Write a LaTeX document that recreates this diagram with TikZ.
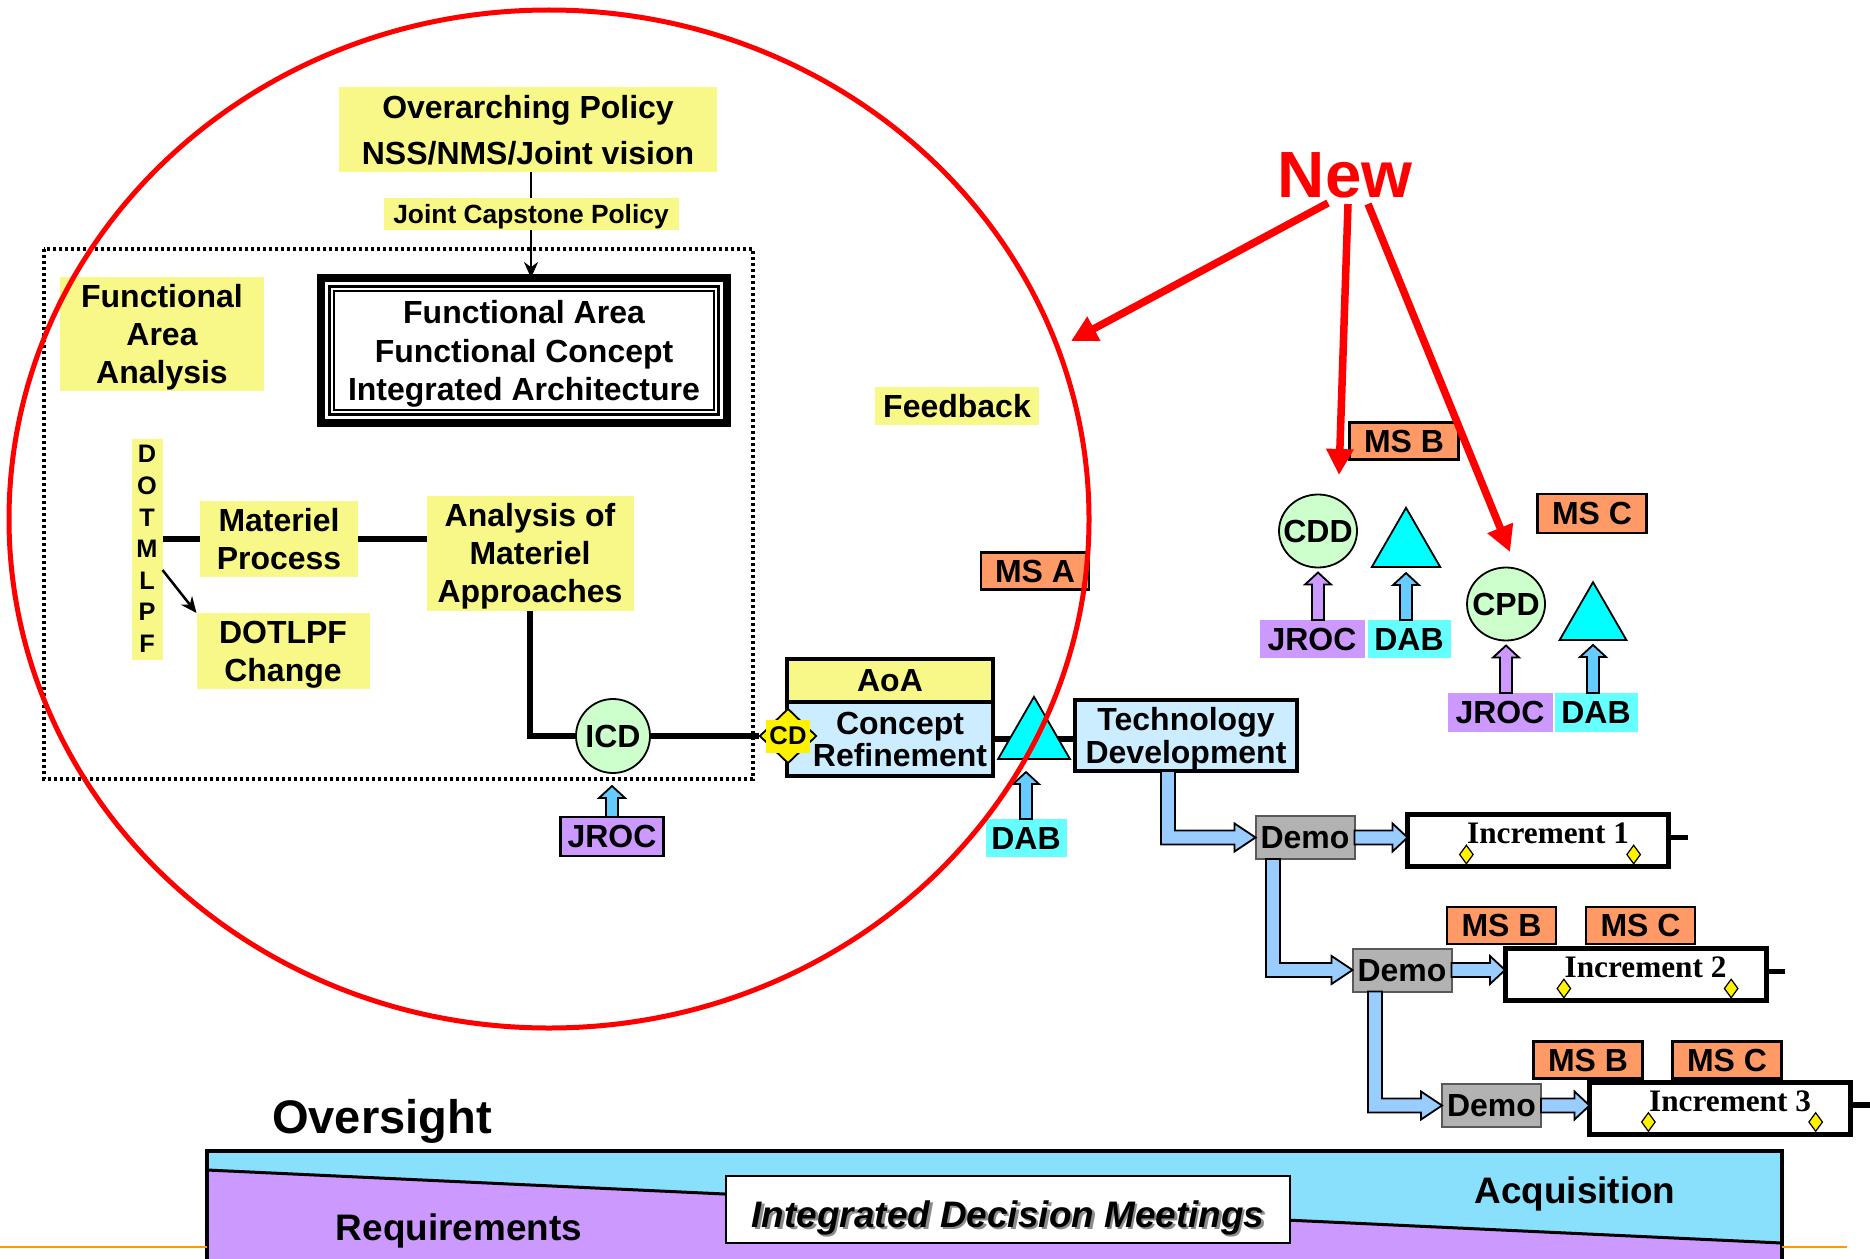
\documentclass[tikz,border=0pt]{standalone}
\usepackage{fontspec}
\setmainfont{Liberation Sans}
\newfontfamily\incfont{Liberation Serif}
\usetikzlibrary{calc,shapes.geometric,arrows.meta}

\definecolor{ylw}{HTML}{F8F888}
\definecolor{msorange}{HTML}{FF9966}
\definecolor{jrocpurple}{HTML}{CC99FF}
\definecolor{dabcyan}{HTML}{66FFFF}
\definecolor{tricyan}{HTML}{00FFFF}
\definecolor{docgreen}{HTML}{CCFFCC}
\definecolor{phaseblue}{HTML}{CCECFF}
\definecolor{flowblue}{HTML}{99CCFF}
\definecolor{liftblue}{HTML}{66CCFF}
\definecolor{demogray}{HTML}{B2B2B2}
\definecolor{bandcyan}{HTML}{89E0FC}
\definecolor{bandpurple}{HTML}{CC99FF}
\definecolor{rulered}{HTML}{FF0000}
\definecolor{footorange}{HTML}{FF9900}

% block arrow pointing up: foot, tip, fill
\newcommand{\liftarrow}[3]{%
	\path (#1) coordinate (la) (#2) coordinate (lt) (la |- lt) coordinate (lb);
	\filldraw[blkedge, fill=#3] ($(la)+(-6,0)$) -- ($(lb)+(-6,12)$) -- ($(lb)+(-13,12)$) -- (lb)
	-- ($(lb)+(13,12)$) -- ($(lb)+(6,12)$) -- ($(la)+(6,0)$) -- cycle;
}
% block arrow going down, then right
\newcommand{\flowarrow}[2]{%
	\path (#1) coordinate (ta) (#2) coordinate (tb) (ta |- tb) coordinate (tc);
	\filldraw[blkedge, fill=flowblue] ($(ta)+(-7,0)$) -- ($(tc)+(-7,7)$) -- ($(tb)+(-21,7)$)
	-- ($(tb)+(-21,14)$) -- (tb) -- ($(tb)+(-21,-14)$) -- ($(tb)+(-21,-7)$)
	-- ($(tc)+(7,-7)$) -- ($(ta)+(7,0)$) -- cycle;
}
% block arrow going right
\newcommand{\pusharrow}[2]{%
	\path (#1) coordinate (pa) (pa -| #2) coordinate (pb);
	\filldraw[blkedge, fill=flowblue] ($(pa)+(0,-7)$) -- ($(pb)+(-15,-7)$) -- ($(pb)+(-15,-14)$)
	-- (pb) -- ($(pb)+(-15,14)$) -- ($(pb)+(-15,7)$) -- ($(pa)+(0,7)$) -- cycle;
}
\newcommand{\shadowed}[1]{\rlap{\kern0.25mm\raisebox{-0.25mm}{\color{black!45}#1}}#1}

\tikzset{
	lbl/.style={font=\bfseries\fontsize{9.1}{10.9}\selectfont, align=center, inner sep=0pt, outer sep=0pt, text depth=0pt},
	ybox/.style={lbl, fill=ylw},
	msbox/.style={lbl, fill=msorange, draw, line width=0.22mm, minimum width=10.9mm, minimum height=3.7mm},
	jrocbox/.style={lbl, fill=jrocpurple, minimum width=10.5mm, minimum height=3.8mm},
	dabbox/.style={lbl, fill=dabcyan, minimum width=8.3mm, minimum height=3.8mm},
	docell/.style={lbl, ellipse, draw, line width=0.18mm, fill=docgreen, minimum width=7.8mm, minimum height=7.3mm},
	dabtri/.style={regular polygon, regular polygon sides=3, draw, line width=0.18mm, fill=tricyan, inner sep=0pt, outer sep=0pt},
	phasebox/.style={lbl, draw, line width=0.4mm, fill=phaseblue},
	demobox/.style={lbl, draw=black!65, line width=0.2mm, fill=demogray, minimum width=9.9mm, minimum height=4.3mm},
	incbox/.style={draw, line width=0.5mm, fill=white, inner sep=0pt, outer sep=0pt, minimum width=26.1mm, minimum height=5.2mm},
	inctext/.style={font=\incfont\bfseries\fontsize{8.9}{10}\selectfont, inner sep=0pt},
	ydia/.style={diamond, draw, line width=0.12mm, fill=yellow, inner sep=0pt, minimum width=1.4mm, minimum height=1.9mm},
	thinln/.style={line width=0.25mm},
	heavyln/.style={line width=0.55mm},
	blkedge/.style={draw=black, line width=0.18mm, line join=miter},
	redarrow/.style={draw=rulered, line width=0.75mm, -{Triangle[length=2.6mm,width=2.6mm]}},
}

\begin{document}
\begin{tikzpicture}[x=0.1mm, y=-0.1mm, line join=miter]

	\clip (0,0) rectangle (1870,1258);

	% ----------------------------
	% 1) Policy on top
	% ----------------------------
	\node[ybox, minimum width=37.8mm, minimum height=8.5mm, font=\bfseries\fontsize{9.1}{13.2}\selectfont]
		(policy) at (528,130) {Overarching Policy\\NSS/NMS/Joint vision};
	\node[ybox, minimum width=29.5mm, minimum height=3.2mm, font=\bfseries\fontsize{7.5}{9}\selectfont]
		(joint) at (531,214) {Joint Capstone Policy};

	% ----------------------------
	% 2) Dotted frame + functional area
	% ----------------------------
	\draw[line width=0.35mm, dash pattern=on 0.35mm off 0.25mm] (44,249) rectangle (753,779);

	\node[lbl, draw, line width=0.8mm, fill=white, minimum width=40.6mm, minimum height=14.5mm]
		(farch) at (524,350.5) {Functional Area\\Functional Concept\\Integrated Architecture};
	\draw[line width=0.35mm] ([shift={(0.85mm,-0.85mm)}]farch.north west) rectangle ([shift={(-0.85mm,0.85mm)}]farch.south east);
	\draw[line width=0.2mm] ([shift={(1.3mm,-1.3mm)}]farch.north west) rectangle ([shift={(-1.3mm,1.3mm)}]farch.south east);

	\draw[thinln] (joint.north |- policy.south) -- (joint.north);
	\draw[thinln, -{Stealth[length=1.6mm,width=1.4mm]}] (joint.south) -- (joint.south |- farch.north);

	\node[ybox, minimum width=20.4mm, minimum height=11.4mm] (faa) at (162,334) {Functional\\Area\\Analysis};

	% ----------------------------
	% 3) DOTMLPF and materiel
	% ----------------------------
	\node[ybox, minimum width=3.1mm, minimum height=22.1mm, font=\bfseries\fontsize{7.2}{9}\selectfont]
		(dotm) at (147,549) {D\\O\\T\\M\\L\\P\\F};
	\node[ybox, minimum width=15.8mm, minimum height=7.6mm] (matp) at (279,539) {Materiel\\Process};
	\node[ybox, minimum width=17.3mm, minimum height=7.6mm] (dotlpf) at (283,651) {DOTLPF\\Change};
	\node[ybox, minimum width=20.7mm, minimum height=11.5mm] (aoma) at (530,553) {Analysis of\\Materiel\\Approaches};

	\draw[heavyln] (dotm.east |- matp.west) -- (matp.west);
	\draw[heavyln] (matp.east) -- (matp.east -| aoma.west);
	\draw[thinln, -{Stealth[length=1.6mm,width=1.4mm]}] ([yshift=-2.1mm]dotm.east) -- (dotlpf.north west);

	% ----------------------------
	% 4) ICD, AoA, concept refinement
	% ----------------------------
	\node[docell, minimum width=7.4mm, minimum height=7.4mm] (icd) at (613,736) {\makebox[0pt]{ICD}};
	\node[lbl, fill=jrocpurple, draw, line width=0.22mm, minimum width=10.3mm, minimum height=3.9mm]
		(jroc1) at (612,836.5) {JROC};
	\node[lbl, draw, line width=0.4mm, fill=ylw, minimum width=20.6mm, minimum height=4.3mm] (aoa) at (890,680) {AoA};
	\node[phasebox, minimum width=20.6mm, minimum height=7.4mm, font=\bfseries\fontsize{9.1}{9.2}\selectfont]
		(cr) at (890,739) {\hspace*{2mm}Concept\\\hspace*{2mm}Refinement};
	\node[diamond, draw, line width=0.18mm, fill=yellow, inner sep=0pt, minimum width=5.7mm, minimum height=5.5mm,
		label={[lbl, fill=yellow, font=\bfseries\fontsize{7.3}{8}\selectfont, minimum width=4.4mm, minimum height=3.3mm]center:CD}]
		(cd) at (788,736) {};

	\draw[heavyln] (aoma.south) |- (icd.west);
	\draw[heavyln] (icd.east) -- (cd.west);
	\liftarrow{jroc1.north}{[yshift=-1.3mm]icd.south}{liftblue}

	% ----------------------------
	% 5) MS A, technology development
	% ----------------------------
	\node[phasebox, minimum width=22.2mm, minimum height=7.1mm,
		font=\bfseries\fontsize{9.1}{9.4}\selectfont] (tech) at (1186,735.5) {Technology\\Development};
	\draw[heavyln] (cr.east) -- (cr.east -| tech.west);
	\node[dabtri, minimum size=8.3mm] (msatri) at (1034,738.3) {};
	\node[dabbox, minimum width=8.1mm] (dab1) at (1026,838) {DAB};
	\liftarrow{dab1.north}{[yshift=-1.3mm]msatri.side 2}{liftblue}
	\node[msbox, minimum width=10.8mm] (msa) at (1035,571) {MS A};
	\node[ybox, minimum width=16.4mm, minimum height=3.8mm] (feedback) at (957,406) {Feedback};

	% ----------------------------
	% 6) CDD / CPD decisions
	% ----------------------------
	\node[msbox] (msb0) at (1404,441) {MS B};
	\node[docell] (cdd) at (1318,531) {\makebox[0pt]{CDD}};
	\node[dabtri, minimum size=7.9mm] (tri2) at (1406,547.3) {};
	\node[jrocbox] (jroc2) at (1312,639) {JROC};
	\node[dabbox] (dab2) at (1409,639) {DAB};
	\liftarrow{cdd.south |- jroc2.north}{[yshift=-0.5mm]cdd.south}{jrocpurple}
	\liftarrow{tri2.side 2 |- dab2.north}{[yshift=-0.6mm]tri2.side 2}{liftblue}

	\node[msbox, minimum height=3.9mm] (msc0) at (1592,513.5) {MS C};
	\node[docell] (cpd) at (1506,604) {\makebox[0pt]{CPD}};
	\node[dabtri, minimum size=7.7mm] (tri3) at (1593,620.7) {};
	\node[jrocbox, minimum height=3.9mm] (jroc3) at (1500,712.5) {JROC};
	\node[dabbox, minimum height=3.9mm] (dab3) at (1596,712.5) {DAB};
	\liftarrow{cpd.south |- jroc3.north}{[yshift=-0.5mm]cpd.south}{jrocpurple}
	\liftarrow{tri3.side 2 |- dab3.north}{[yshift=-0.5mm]tri3.side 2}{liftblue}

	% ----------------------------
	% 7) Demo / increments
	% ----------------------------
	\foreach \i/\dx/\dy/\ix/\iy in {1/1305/837.5/1538/840.5, 2/1402/970/1635.5/974.5, 3/1491.5/1105.5/1720/1108}{
		\node[demobox] (demo\i) at (\dx,\dy) {Demo};
		\node[incbox] (inc\i) at (\ix,\iy) {};
		\node[inctext, anchor=base] (inct\i) at ($(inc\i.center)+(10,3)$) {Increment \i};
		\node[ydia] (incl\i) at ([yshift=-1mm]inct\i.south west) {};
		\node[ydia] (incr\i) at ([yshift=-1mm,xshift=0.4mm]inct\i.south east) {};
		\draw[heavyln] ([yshift=0.3mm]inc\i.east) -- ([xshift=1.9mm,yshift=0.3mm]inc\i.east);
		\pusharrow{demo\i.east}{inc\i.west}
	}
	\foreach \i/\bx/\cx/\my in {2/1501.5/1640.5/925.5, 3/1588/1727/1060}{
		\node[msbox] (msb\i) at (\bx,\my) {MS B};
		\node[msbox] (msc\i) at (\cx,\my) {MS C};
	}
	\flowarrow{[xshift=-1.8mm]tech.south}{demo1.west}
	\flowarrow{[xshift=-3.2mm]demo1.south}{demo2.west}
	\flowarrow{[xshift=-2.7mm]demo2.south}{demo3.west}

	% ----------------------------
	% 8) Oversight band
	% ----------------------------
	\def\bandL{207} \def\bandR{1782} \def\bandT{1151}
	\fill[bandcyan] (\bandL,\bandT) rectangle (\bandR,1270);
	\fill[bandpurple] (\bandL,1170) -- (\bandR,1243) -- (\bandR,1270) -- (\bandL,1270) -- cycle;
	\draw[line width=0.3mm] (\bandL,1170) -- (\bandR,1243);
	\draw[line width=0.4mm] (\bandL,1270) -- (\bandL,\bandT) -- (\bandR,\bandT) -- (\bandR,1270);
	\draw[footorange, line width=0.15mm] (0,1247) -- (\bandL,1247) (\bandR,1247) -- (1847,1247);

	\node[lbl, anchor=base, font=\bfseries\fontsize{13.4}{15}\selectfont] (oversight) at (382,1133) {Oversight};
	\node[lbl, anchor=base, font=\bfseries\fontsize{10.5}{12}\selectfont] (reqs) at (459,1240) {Requirements};
	\node[lbl, anchor=base, font=\bfseries\fontsize{10.5}{12}\selectfont] (acq) at (1575,1203) {Acquisition};
	\node[lbl, draw, line width=0.2mm, fill=white, minimum width=56.4mm, minimum height=6.7mm, text height=3.5mm,
		font=\bfseries\itshape\fontsize{10.5}{12}\selectfont] (idm) at (1008,1209.5) {\shadowed{Integrated Decision Meetings}};

	% ----------------------------
	% 9) Red ring + "New"
	% ----------------------------
	\draw[rulered, line width=0.5mm] (549,519) ellipse [x radius=54mm, y radius=50.9mm];
	\node[lbl, text=rulered, font=\bfseries\fontsize{18.6}{20}\selectfont] (new) at (1345,175.5) {New};
	\coordinate (ringhit) at (1071,341);
	\coordinate (cddhit) at (1339,475);
	\coordinate (cpdhit) at (1510,552);
	\draw[redarrow] ([xshift=-1.7mm,yshift=-0.5mm]new.south) -- (ringhit);
	\draw[redarrow] ([xshift=0.3mm,yshift=-0.6mm]new.south) -- (cddhit);
	\draw[redarrow] ([xshift=2.3mm,yshift=-0.6mm]new.south) -- (cpdhit);

\end{tikzpicture}
\end{document}
